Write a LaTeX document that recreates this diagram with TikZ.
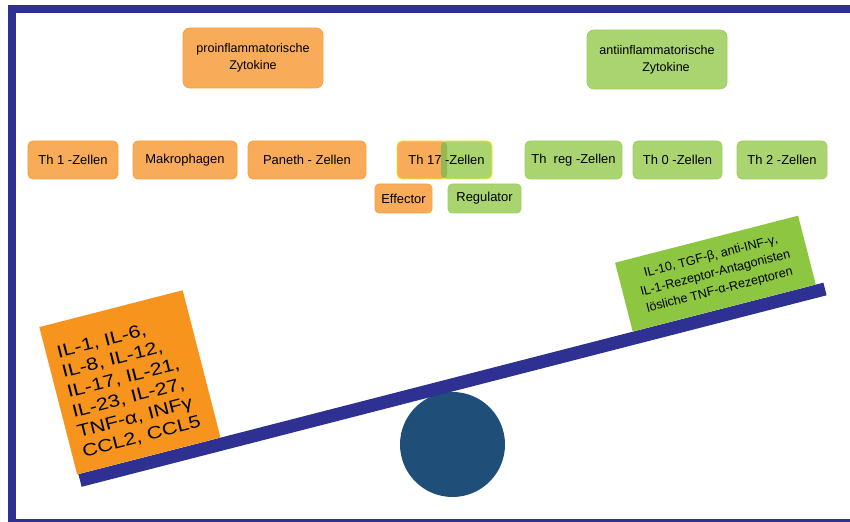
\documentclass[tikz,border=0pt]{standalone}
\usepackage{fontspec}
\setmainfont{Liberation Sans}
\newfontfamily\widefont{Liberation Sans}[FakeStretch=1.23]
\usetikzlibrary{calc}

\definecolor{frameblue}{HTML}{2E3192}
\definecolor{pivotblue}{HTML}{1F4E79}
\definecolor{cellorange}{HTML}{F8AC59}
\definecolor{cellorangeline}{HTML}{F6A03C}
\definecolor{cellgreen}{HTML}{A9D46F}
\definecolor{cellgreenline}{HTML}{9FCD60}
\definecolor{mixolive}{HTML}{97B752}
\definecolor{th17line}{HTML}{F5EA1A}
\definecolor{bigorange}{HTML}{F7941E}
\definecolor{biggreen}{HTML}{8DC641}

\begin{document}
\begin{tikzpicture}[x=1bp, y=1bp,
  cellbase/.style={rounded corners=5bp, line width=0.8bp, minimum height=38bp,
    inner sep=0pt, text=black, font=\fontsize{13}{15}\selectfont},
  procell/.style={cellbase, draw=cellorangeline, fill=cellorange},
  anticell/.style={cellbase, draw=cellgreenline, fill=cellgreen},
  headbox/.style={rounded corners=7bp, line width=0.8bp, minimum width=140bp,
    minimum height=60bp, inner sep=0pt, align=center,
    font=\fontsize{12.6}{17}\selectfont},
  subbox/.style={rounded corners=4bp, line width=0.6bp, minimum height=29bp,
    inner sep=0pt, font=\fontsize{13}{15}\selectfont},
  beam/.style={frameblue, line width=13bp},
  tilt/.style={rotate=14.41, inner sep=0pt}
]
\useasboundingbox (0,0) rectangle (850,522);

% outer frame, cut off at the right and bottom page edges
\begin{scope}
  \clip (0,0) rectangle (850,522);
  \draw[frameblue, line width=8bp] (12,-1) rectangle (856,513);
\end{scope}

% headings
\node[headbox, draw=cellorangeline, fill=cellorange] (pro) at (253,464)
  {proinflammatorische\\Zytokine};
\node[headbox, draw=cellgreenline, fill=cellgreen, minimum height=59bp] (anti) at (657,462.5)
  {antiinflammatorische\\\hspace*{18bp}Zytokine};

% cell types
\node[procell, minimum width=90bp]  (th1)    at (73,362)    {Th 1 -Zellen};
\node[procell, minimum width=104bp] (makro)  at (185,362)   {Makrophagen};
\node[procell, minimum width=118bp] (paneth) at (307,362)   {Paneth - Zellen};
\node[anticell, minimum width=97bp] (threg)  at (573.5,362) {Th\ \ reg -Zellen};
\node[anticell, minimum width=89bp] (th0)    at (677.5,362) {Th 0 -Zellen};
\node[anticell, minimum width=90bp] (th2)    at (782,362)   {Th 2 -Zellen};

% Th 17: half effector, half regulator
\fill[cellorange, rounded corners=5bp] (397,343) rectangle (447,381);
\fill[cellgreen, rounded corners=5bp] (441,343) rectangle (492,381);
\begin{scope}
  \clip[rounded corners=5bp] (397,343) rectangle (447,381);
  \fill[mixolive, rounded corners=5bp] (441,343) rectangle (492,381);
\end{scope}
\node[cellbase, draw=th17line, minimum width=95bp] (th17) at (444.5,362) {\hspace*{4bp}Th 17 -Zellen};

\node[subbox, draw=cellorangeline, fill=cellorange, minimum width=57bp] (eff) at (403.5,323.5) {Effector};
\node[subbox, draw=cellgreenline, fill=cellgreen, minimum width=73bp] (reg) at (484.5,323.5) {Regulator};

% balance: pivot and beam
\node[circle, fill=pivotblue, minimum size=105bp, inner sep=0pt] (pivot) at (452.5,77.5) {};
\coordinate (bl) at (80,41.5);
\coordinate (br) at (825,233);
\draw[beam] (bl) -- (br);

% loads on the beam
\path (bl) -- (br) coordinate[pos=0.0946] (ob) coordinate[pos=0.867] (gb);
\node[tilt, anchor=south, fill=bigorange, minimum width=148bp, minimum height=152bp] (obox)
  at ($(ob)!6.5bp!90:(br)$) {};
\node[tilt, anchor=center, text width=126bp, align=left,
      font=\fontsize{17.5}{20.5}\widefont] (otext)
  at ($(obox.center)!5bp!(obox.south)$)
  {IL-1, IL-6,\\IL-8, IL-12,\\IL-17, IL-21,\\IL-23, IL-27,\\TNF-α, INFγ\\CCL2, CCL5};
\node[tilt, anchor=south, fill=biggreen, minimum width=189bp, minimum height=71bp] (gbox)
  at ($(gb)!6.5bp!90:(br)$) {};
\node[tilt, anchor=center, align=center, font=\fontsize{12.6}{17.5}\selectfont] (gtext)
  at (gbox.center)
  {IL-10, TGF-β, anti-INF-γ,\\IL-1-Rezeptor-Antagonisten\\lösliche TNF-α-Rezeptoren};
\end{tikzpicture}
\end{document}
